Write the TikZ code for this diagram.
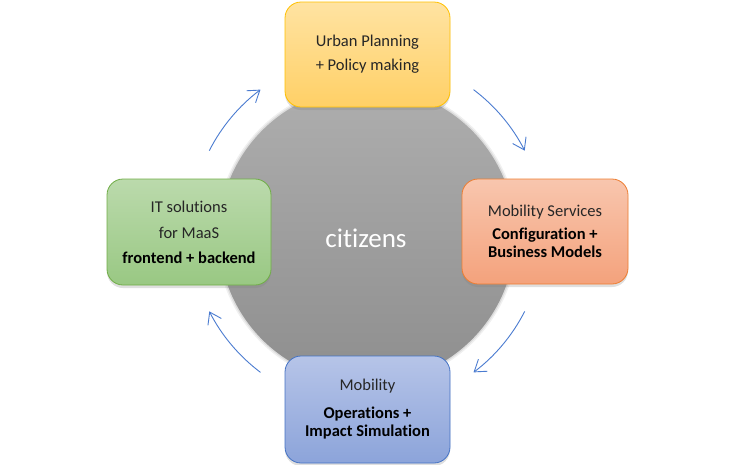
\documentclass[tikz,border=0pt]{standalone}
\usepackage{fontspec}
\setmainfont[RawFeature={-liga}]{Carlito}
\usetikzlibrary{arrows.meta,shadows,calc}
\definecolor{cirtop}{HTML}{AEAEAE}
\definecolor{cirbot}{HTML}{8E8E8E}
\definecolor{ytop}{HTML}{FFE3A2}
\definecolor{ybot}{HTML}{FFD066}
\definecolor{ydraw}{HTML}{FFC000}
\definecolor{otop}{HTML}{F8C6AE}
\definecolor{obot}{HTML}{F4A27C}
\definecolor{odraw}{HTML}{ED7D31}
\definecolor{btop}{HTML}{B6C4E8}
\definecolor{bbot}{HTML}{8CA4DA}
\definecolor{bdraw}{HTML}{4472C4}
\definecolor{gtop}{HTML}{BBDAAC}
\definecolor{gbot}{HTML}{99C883}
\definecolor{gdraw}{HTML}{70AD47}
\definecolor{arrowblue}{HTML}{4A7BD0}
\definecolor{txt}{HTML}{262626}
\tikzset{
  box/.style={rounded corners=16pt, line width=0.8pt, align=center,
    font=\fontsize{16.5}{18}\selectfont, text=txt, inner sep=0pt,
    drop shadow={shadow xshift=0pt,shadow yshift=-3pt,opacity=0.25}},
  flow/.style={draw=arrowblue, line width=0.9pt,
    -{Straight Barb[length=11pt,width=15pt]}}
}
\begin{document}
\begin{tikzpicture}[x=1pt,y=-1pt]
\useasboundingbox (0,0) rectangle (734,464);
% central circle with soft edge
\fill[gray,opacity=0.12] (367,235) circle[radius=151];
\fill[gray,opacity=0.18] (367,235) circle[radius=149.5];
\node[circle, minimum size=296pt, inner sep=0pt, top color=cirtop, bottom color=cirbot] (cit) at (367,235) {};
\node[text=white, font=\fontsize{27}{30}\selectfont] (citt) at (366,238) {citizens};
% boxes
\node[box, minimum width=165pt, minimum height=105pt, draw=ydraw, top color=ytop, bottom color=ybot] (up) at (367.5,54.5)
  {Urban Planning\\[6pt]+ Policy making};
\node[box, minimum width=166pt, minimum height=105pt, draw=odraw, top color=otop, bottom color=obot] (ms) at (545,231.5)
  {Mobility Services\\[5pt]\textbf{\color{black}Configuration +}\\\textbf{\color{black}Business Models}};
\node[box, minimum width=165pt, minimum height=107pt, draw=bdraw, top color=btop, bottom color=bbot] (mo) at (367.5,409.5)
  {Mobility\\[10pt]\textbf{\color{black}Operations +}\\\textbf{\color{black}Impact Simulation}};
\node[box, minimum width=164pt, minimum height=106pt, draw=gdraw, top color=gtop, bottom color=gbot] (it) at (189,232)
  {IT solutions\\[8pt]for MaaS\\[7pt]\textbf{\color{black}frontend + backend}};
% arrows
\coordinate (arcc) at (367,231);
\coordinate (a1s) at ($(arcc)+(-153:177)$);
\coordinate (a2s) at ($(arcc)+(-53:177)$);
\coordinate (a3s) at ($(arcc)+(27:177)$);
\coordinate (a4s) at ($(arcc)+(127:177)$);
\draw[flow] (a1s) arc[start angle=-153,end angle=-127,radius=177];
\draw[flow] (a2s) arc[start angle=-53,end angle=-27,radius=177];
\draw[flow] (a3s) arc[start angle=27,end angle=53,radius=177];
\draw[flow] (a4s) arc[start angle=127,end angle=153,radius=177];
\end{tikzpicture}
\end{document}
